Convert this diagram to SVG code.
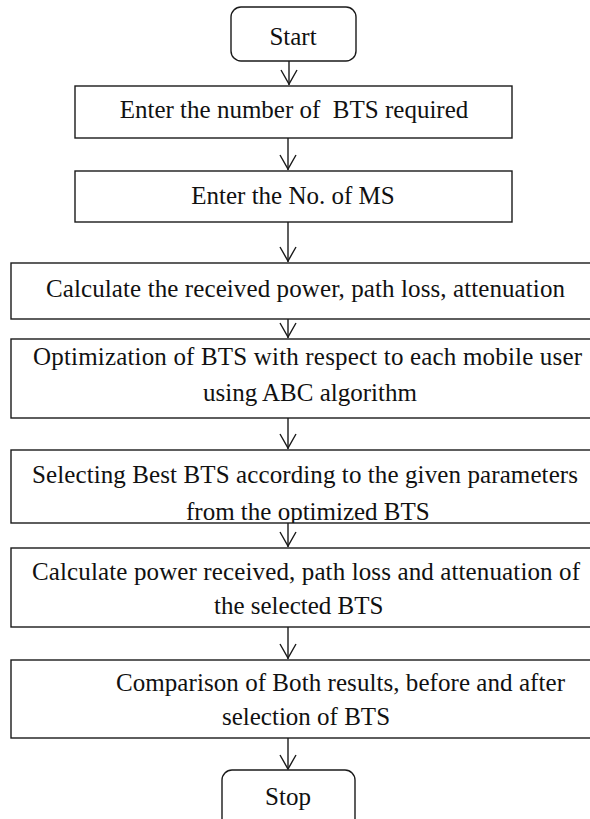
<svg xmlns="http://www.w3.org/2000/svg" width="590" height="819" viewBox="0 0 590 819">
<style>
.box{fill:#fff;stroke:#1a1a1a;stroke-width:1.4}
text{font-family:'Liberation Serif','Times New Roman',Times,serif;font-size:25px;fill:#111}
.c{text-anchor:middle}
.con line,.con path{stroke:#1a1a1a;stroke-width:1.4;fill:none}
</style>
<defs>
<clipPath id="clip5"><rect x="11" y="450" width="590" height="73"/></clipPath>
</defs>
<g id="connectors" class="con">
<line x1="289" y1="61" x2="289" y2="85"/><path d="M281,70 L289,84 L297,70"/>
<line x1="288" y1="138" x2="288" y2="170"/><path d="M280,155 L288,169 L296,155"/>
<line x1="288" y1="222" x2="288" y2="262"/><path d="M280,247 L288,261 L296,247"/>
<line x1="288" y1="319" x2="288" y2="338"/><path d="M280,323 L288,337 L296,323"/>
<line x1="288" y1="418" x2="288" y2="449"/><path d="M280,434 L288,448 L296,434"/>
<line x1="288" y1="523" x2="288" y2="547"/><path d="M280,532 L288,546 L296,532"/>
<line x1="288" y1="627" x2="288" y2="659"/><path d="M280,644 L288,658 L296,644"/>
<line x1="288" y1="738" x2="288" y2="769"/><path d="M280,755 L288,769 L296,755"/>
</g>
<g id="start">
<rect class="box" x="231" y="7" width="125" height="54" rx="10"/>
<text class="c" x="293" y="45">Start</text>
</g>
<g id="n1">
<rect class="box" x="75" y="86" width="437" height="52"/>
<text class="c" x="294" y="118" xml:space="preserve">Enter the number of  BTS required</text>
</g>
<g id="n2">
<rect class="box" x="75" y="171" width="437" height="51"/>
<text class="c" x="293" y="204">Enter the No. of MS</text>
</g>
<g id="n3">
<rect class="box" x="11" y="263" width="600" height="56"/>
<text x="46" y="297" textLength="519" lengthAdjust="spacing">Calculate the received power, path loss, attenuation</text>
</g>
<g id="n4">
<rect class="box" x="11" y="339" width="600" height="79"/>
<text x="33" y="365" textLength="549" lengthAdjust="spacing">Optimization of BTS with respect to each mobile user</text>
<text x="203" y="401">using ABC algorithm</text>
</g>
<g id="n5">
<rect class="box" x="11" y="450" width="600" height="73"/>
<g clip-path="url(#clip5)">
<text x="32" y="483" textLength="546" lengthAdjust="spacing">Selecting Best BTS according to the given parameters</text>
<text x="186" y="520">from the optimized BTS</text>
</g>
</g>
<g id="n6">
<rect class="box" x="11" y="548" width="600" height="79"/>
<text x="32" y="580" textLength="548" lengthAdjust="spacing">Calculate power received, path loss and attenuation of</text>
<text x="214" y="614">the selected BTS</text>
</g>
<g id="n7">
<rect class="box" x="11" y="660" width="600" height="78"/>
<text x="116" y="691" textLength="449" lengthAdjust="spacing">Comparison of Both results, before and after</text>
<text x="222" y="725">selection of BTS</text>
</g>
<g id="stop">
<rect class="box" x="222" y="770" width="133" height="60" rx="10"/>
<text class="c" x="288" y="805">Stop</text>
</g>
</svg>
